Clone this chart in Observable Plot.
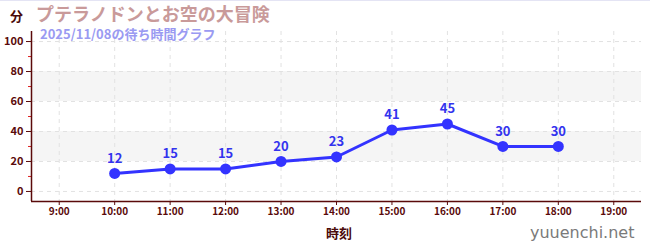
<!DOCTYPE html>
<html><head><meta charset="utf-8">
<script src="https://cdn.jsdelivr.net/npm/d3@7"></script>
<script src="https://cdn.jsdelivr.net/npm/@observablehq/plot@0.6"></script>
<style>
body{margin:0;background:#fff;font-family:"Noto Sans CJK JP","Noto Sans",sans-serif;}
#wrap{position:relative;width:650px;height:250px;overflow:hidden;border-top:1px solid #e4e4f4;box-sizing:border-box;}
.t{position:absolute;white-space:nowrap;font-weight:bold;line-height:1;}
</style></head><body>
<div id="wrap">
<div id="chart"></div>
<div class="t" id="unit" style="left:10px;top:8px;font-size:13px;color:#4a0a0a;">分</div>
<div class="t" id="title" style="left:36px;top:3px;font-size:18px;color:#c99a9a;"></div>
<div class="t" id="subtitle" style="left:40px;top:26px;font-size:13px;color:#9a9af2;"></div>
<div class="t" id="xlabel" style="left:326px;top:225px;font-size:13px;color:#4a0a0a;"></div>
<div class="t" id="site" style="left:530px;top:224px;font-size:16px;color:#7a7a7a;font-weight:normal;font-family:'DejaVu Sans',sans-serif;"></div>
</div>
<script>
const titleText = "プテラノドンとお空の大冒険";
const subtitleText = "2025/11/08の待ち時間グラフ";
const xLabelText = "時刻";
const siteText = "yuuenchi.net";
const hours = [10, 11, 12, 13, 14, 15, 16, 17, 18];
const waits = [12, 15, 15, 20, 23, 41, 45, 30, 30];
const xTicks = [9, 10, 11, 12, 13, 14, 15, 16, 17, 18, 19];
const yTicks = [0, 20, 40, 60, 80, 100];
const yMinorTicks = [10, 30, 50, 70, 90];
const bandLow = [20, 60];
const bandHigh = [40, 80];
const xDomain = [8.5, 19.5];
const yDomain = [-6.7, 106.7];

document.getElementById("title").textContent = titleText;
document.getElementById("subtitle").textContent = subtitleText;
document.getElementById("xlabel").textContent = xLabelText;
document.getElementById("site").textContent = siteText;

const data = hours.map((h, i) => ({h, w: waits[i]}));
const bands = bandLow.map((lo, i) => ({lo, hi: bandHigh[i]}));
const axisColor = "#5a0a0a";

const chart = Plot.plot({
  width: 650, height: 250,
  marginLeft: 31, marginRight: 9, marginTop: 30, marginBottom: 50,
  style: {fontFamily: "'Noto Sans CJK JP','Noto Sans',sans-serif", fontSize: "11px", fontWeight: "bold", background: "transparent"},
  x: {domain: xDomain},
  y: {domain: yDomain},
  marks: [
    Plot.rect(bands, {x1: () => xDomain[0], x2: () => xDomain[1], y1: "lo", y2: "hi", fill: "#f5f5f5"}),
    Plot.gridY(yTicks, {stroke: "#e2e2e2", strokeOpacity: 1, strokeDasharray: "4,4"}),
    Plot.gridX(xTicks, {stroke: "#e2e2e2", strokeOpacity: 1, strokeDasharray: "4,4"}),
    Plot.axisY(yMinorTicks, {tickSize: 3, text: null, stroke: "#dd2222"}),
    Plot.axisY(yTicks, {tickSize: 5, tickPadding: 3, stroke: axisColor, fill: axisColor, label: null, fontSize: 11}),
    Plot.axisX(xTicks, {tickSize: 4, tickPadding: 2, stroke: axisColor, fill: axisColor, label: null, tickFormat: d => d + ":00", fontSize: 10}),
    Plot.ruleX([xDomain[0]], {stroke: axisColor, strokeWidth: 1.5}),
    Plot.ruleY([yDomain[0]], {stroke: axisColor, strokeWidth: 1.5}),
    Plot.line(data, {x: "h", y: "w", stroke: "#3333ff", strokeWidth: 3}),
    Plot.dot(data, {x: "h", y: "w", r: 5.5, fill: "#3333ff"}),
    Plot.text(data, {x: "h", y: "w", text: d => String(d.w), dy: -15, fill: "#3333ee", fontSize: 13, fontWeight: "bold"})
  ]
});
document.getElementById("chart").appendChild(chart);
</script>
</body></html>
